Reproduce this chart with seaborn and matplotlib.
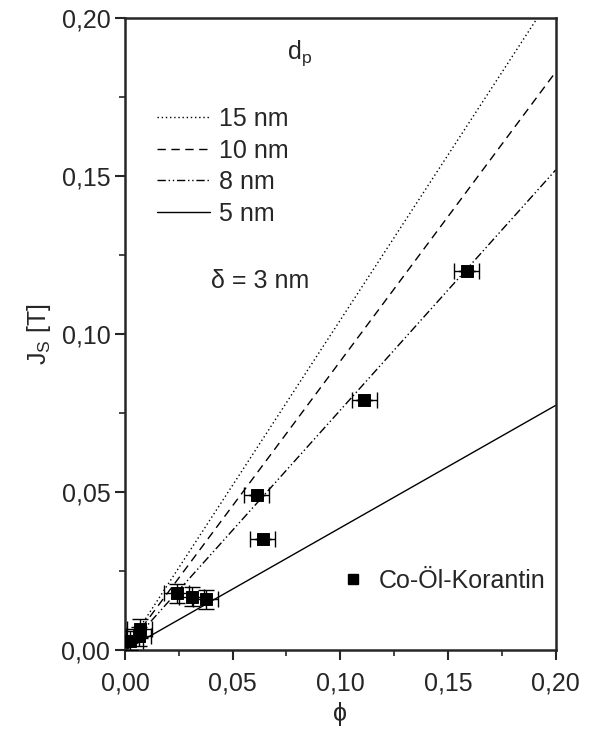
import numpy as np
import pandas as pd
import matplotlib
matplotlib.use("Agg")
import matplotlib.pyplot as plt
import seaborn as sns
from matplotlib.ticker import MultipleLocator, FuncFormatter
from matplotlib.lines import Line2D

# ---- data ----
phi_line = [0.0, 0.20]
js_15nm = [0.0, 0.209]
js_10nm = [0.0, 0.183]
js_8nm = [0.0, 0.152]
js_5nm = [0.0, 0.0775]

phi_meas = [0.1588, 0.111, 0.0611, 0.0639, 0.024, 0.031, 0.0375, 0.0068, 0.0065, 0.0025]
js_meas = [0.1200, 0.0791, 0.0490, 0.0351, 0.0180, 0.0170, 0.0162, 0.0068, 0.0045, 0.0030]
phi_err = [0.0058, 0.0058, 0.0058, 0.0058, 0.0058, 0.0058, 0.0058, 0.0058, 0.0058, 0.0058]
js_err = [0.0, 0.0, 0.0, 0.0, 0.003, 0.003, 0.003, 0.003, 0.003, 0.003]

line_labels = ["15 nm", "10 nm", "8 nm", "5 nm"]

sns.set_style("ticks")
plt.rcParams['font.family'] = ['Liberation Sans', 'DejaVu Sans']
plt.rcParams['mathtext.fontset'] = 'custom'
plt.rcParams['mathtext.rm'] = 'Liberation Sans'
plt.rcParams['mathtext.it'] = 'Liberation Sans'

fig, ax = plt.subplots(figsize=(5.95, 7.29), dpi=100)
fig.subplots_adjust(left=0.21, right=0.934, bottom=0.108, top=0.975)

styles = [(0, (1, 2)), (0, (6, 4)), (0, (6, 2, 1, 2, 1, 2)), "-"]
for y, lab, ls in zip([js_15nm, js_10nm, js_8nm, js_5nm], line_labels, styles):
    df = pd.DataFrame({"phi": phi_line, "js": y})
    sns.lineplot(data=df, x="phi", y="js", ax=ax, color="black", lw=1.0,
                 linestyle=ls, label=lab)

meas = pd.DataFrame({"phi": phi_meas, "js": js_meas})
ax.errorbar(phi_meas, js_meas, xerr=phi_err, yerr=js_err, fmt="none",
            ecolor="black", elinewidth=1.0, capsize=6, capthick=1.0, zorder=3)
sns.scatterplot(data=meas, x="phi", y="js", ax=ax, marker="s", s=70,
                color="black", edgecolor="black", zorder=4, legend=False)

ax.set_xlim(0, 0.20)
ax.set_ylim(0, 0.20)
ax.xaxis.set_major_locator(MultipleLocator(0.05))
ax.xaxis.set_minor_locator(MultipleLocator(0.025))
ax.yaxis.set_major_locator(MultipleLocator(0.05))
ax.yaxis.set_minor_locator(MultipleLocator(0.025))
fmt = FuncFormatter(lambda v, p: f"{v:.2f}".replace(".", ","))
ax.xaxis.set_major_formatter(fmt)
ax.yaxis.set_major_formatter(fmt)
ax.tick_params(which="major", direction="out", length=7, width=1.5, labelsize=18)
ax.tick_params(axis="x", which="major", pad=8)
ax.tick_params(which="minor", direction="out", length=4, width=1.2)
for sp in ax.spines.values():
    sp.set_linewidth(1.8)
    sp.set_visible(True)

ax.set_xlabel("ϕ", fontsize=18, labelpad=5)
ax.set_ylabel("J$_\\mathrm{S}$ [T]", fontsize=18, labelpad=6)

leg = ax.legend(loc="upper left", bbox_to_anchor=(0.052, 0.875), frameon=False,
                fontsize=18, handlelength=2.1, handletextpad=0.35,
                labelspacing=0.3, borderaxespad=0)
ax.add_artist(leg)
ax.text(0.405, 0.945, "d$_\\mathrm{p}$", transform=ax.transAxes, fontsize=18,
        ha="center", va="center")
ax.text(0.2, 0.585, "δ = 3 nm", transform=ax.transAxes, fontsize=18,
        ha="left", va="center")

h = Line2D([], [], marker="s", color="black", ls="none", markersize=7.5)
ax.legend([h], ["Co-Öl-Korantin"], loc="lower right", bbox_to_anchor=(1.0, 0.075),
          frameon=False, fontsize=18, handletextpad=0.55, borderaxespad=0,
          handlelength=1.0)

fig.savefig("out.png", dpi=100)
